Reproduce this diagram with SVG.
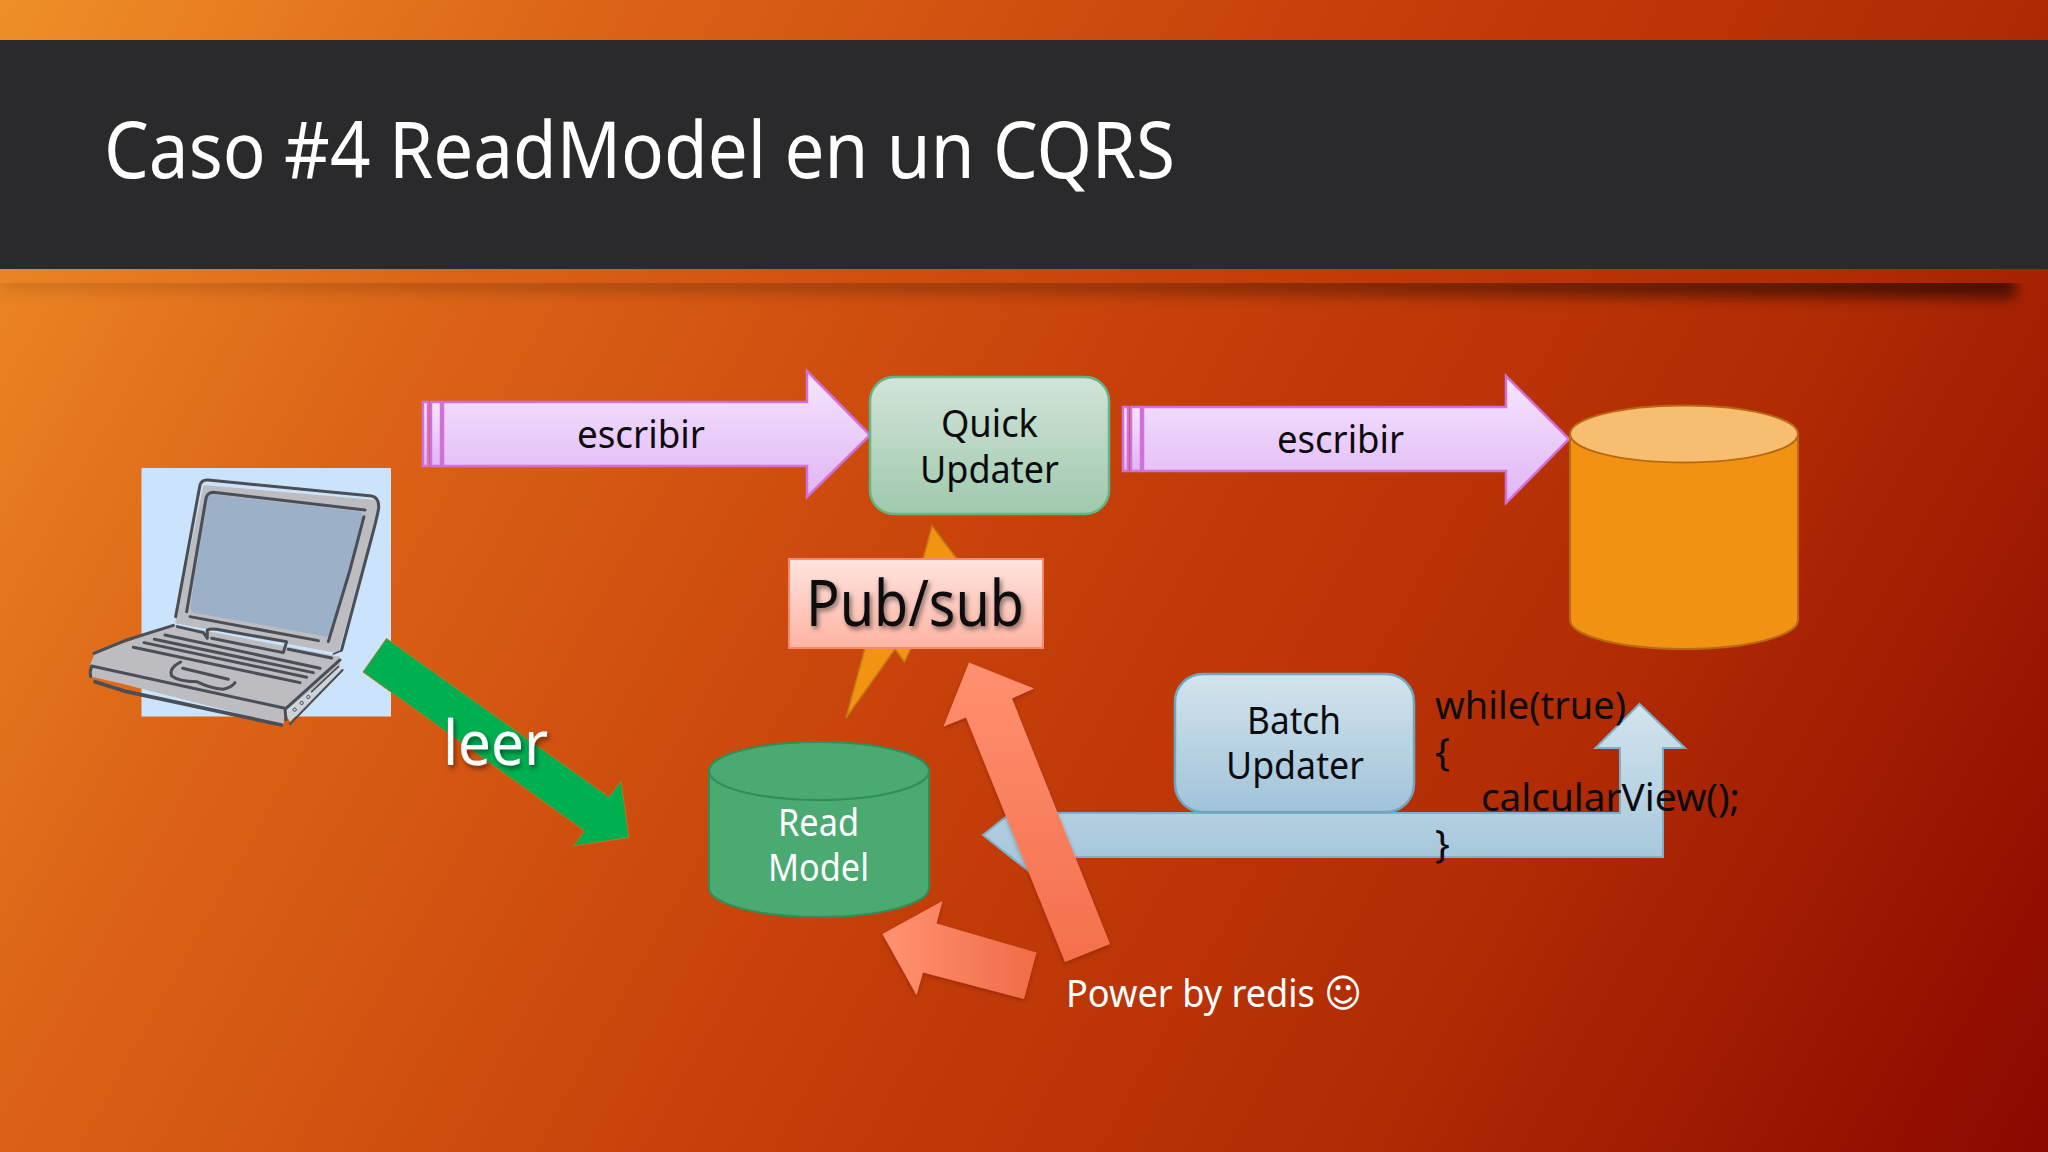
<svg xmlns="http://www.w3.org/2000/svg" width="2048" height="1152" viewBox="0 0 2048 1152">
<defs>
<linearGradient id="bg" gradientUnits="userSpaceOnUse" x1="0" y1="0" x2="2048" y2="1152"><stop offset="0" stop-color="#ef8f28"/><stop offset="0.22" stop-color="#dc6417"/><stop offset="0.5" stop-color="#c6400a"/><stop offset="0.75" stop-color="#b02a04"/><stop offset="1" stop-color="#8a0800"/></linearGradient>
<linearGradient id="purple" x1="0" y1="0" x2="0" y2="1"><stop offset="0" stop-color="#f6e6fe"/><stop offset="1" stop-color="#dfb5f5"/></linearGradient>
<linearGradient id="green" x1="0" y1="0" x2="0" y2="1"><stop offset="0" stop-color="#d2e4d9"/><stop offset="1" stop-color="#9fc9ad"/></linearGradient>
<linearGradient id="blue" x1="0" y1="0" x2="0" y2="1"><stop offset="0" stop-color="#d3e4ed"/><stop offset="1" stop-color="#a0c3d9"/></linearGradient>
<linearGradient id="pink" x1="0" y1="0" x2="0" y2="1"><stop offset="0" stop-color="#ffe4df"/><stop offset="1" stop-color="#ffb4a3"/></linearGradient>
<linearGradient id="peach1" x1="0" y1="0" x2="0" y2="1"><stop offset="0" stop-color="#ff9070"/><stop offset="1" stop-color="#f4704c"/></linearGradient>
<linearGradient id="peach2" x1="0" y1="0" x2="1" y2="0"><stop offset="0" stop-color="#ff9272"/><stop offset="1" stop-color="#f06c48"/></linearGradient>
<linearGradient id="shade" x1="0" y1="0" x2="1" y2="0"><stop offset="0" stop-color="#000" stop-opacity="0.12"/><stop offset="0.55" stop-color="#000" stop-opacity="0.25"/><stop offset="1" stop-color="#000" stop-opacity="0.6"/></linearGradient>
<filter id="blur" x="-5%" y="-200%" width="110%" height="500%"><feGaussianBlur stdDeviation="7"/></filter>
<filter id="ts" x="-10%" y="-10%" width="120%" height="130%"><feDropShadow dx="2" dy="3" stdDeviation="2.500" flood-color="#000" flood-opacity="0.5"/></filter>
<filter id="ss" x="-10%" y="-10%" width="120%" height="120%"><feDropShadow dx="0" dy="2" stdDeviation="2" flood-color="#400" flood-opacity="0.3"/></filter>
<clipPath id="below"><rect x="0" y="283" width="2048" height="60"/></clipPath>
</defs>
<style>
text{font-family:"Noto Sans","DejaVu Sans",sans-serif;font-size:39px;fill:#0c0c10}
.w{fill:#fff}
.pa{fill:url(#purple);stroke:#d070d8;stroke-width:2.500}
.bl{fill:url(#blue);stroke:#7fb0c8;stroke-width:2}
.lk{fill:none;stroke:#4a4f57;stroke-linecap:round;stroke-linejoin:round}
</style>
<rect width="2048" height="1152" fill="url(#bg)"/>
<rect y="40" width="2048" height="229" fill="#2a2a2c"/>
<g clip-path="url(#below)"><polygon points="0,276 2015,276 2015,298 0,290" fill="url(#shade)" filter="url(#blur)"/></g>
<text id="title" class="w" x="104" y="178" style="font-size:78px" textLength="1071" lengthAdjust="spacingAndGlyphs">Caso #4 ReadModel en un CQRS</text>

<g id="laptop">
<rect x="141.500" y="468" width="249.500" height="248.500" fill="#cce4fb"/>
<g transform="translate(120 450) scale(0.3333)">
<path d="M250,105 L770,150 L775,185 L655,610 L165,520 Z" fill="#bdbdc1"/>
<path d="M270,132 L720,185 Q730,190 727,205 L640,540 Q630,565 610,558 L222,488 Q208,482 212,465 L258,150 Q260,136 270,132 Z" fill="#9cb0c8"/>
<path d="M165,525 L660,620 L660,650 L495,785 L490,825 L0,700 L-85,680 L-90,645 L-75,610 Z" fill="#bdbdc1"/>
<path d="M495,790 L660,650 L668,660 L510,815 Z" fill="#cfd3d8"/>
<g class="lk" stroke-width="9">
<path d="M167,500 L240,105 Q245,88 265,90 L755,138 Q778,142 776,175 Q770,210 745,300 L665,600"/>
<path d="M200,485 L258,145 Q262,128 280,127 L735,180"/>
<path d="M732,200 L690,360 L625,575"/>
<path d="M210,500 L595,572"/>
<path d="M172,530 L250,548 L262,565 L262,540 Q270,535 290,538 L500,575 L490,608 L275,565"/>
<path d="M505,598 L635,624"/>
<path d="M160,526 L20,570 L-78,610"/>
<path d="M135,555 L600,655"/>
<path d="M103,568 L580,668"/>
<path d="M72,578 L560,682"/>
<path d="M40,592 L540,698"/>
<path d="M182,636 Q145,655 155,678 Q175,695 230,695 Q270,715 310,718 Q335,712 345,698"/>
<path d="M188,655 L325,688"/>
<path d="M-85,650 Q-92,665 -88,680"/>
<path d="M-85,648 L495,775 L498,810"/>
<path d="M-75,695 L20,725 L485,825" stroke-width="11"/>
<path d="M498,775 L660,630"/>
<path d="M510,822 L668,660" stroke-width="6"/>
<path d="M575,725 L655,650" stroke-width="5"/>
<path d="M640,612 L665,602" stroke-width="5"/>
</g>
<g fill="none" stroke="#4a4f57" stroke-width="3"><circle cx="524" cy="779" r="5"/><circle cx="545" cy="759" r="5"/><circle cx="565" cy="741" r="5"/></g>
</g>
</g>

<g id="connectors">
<g id="write-1">
<rect class="pa" x="423" y="402" width="5" height="64"/><rect class="pa" x="431" y="402" width="10" height="64"/>
<polygon class="pa" points="443,402 807,402 807,371 870,435 807,497 807,466 443,466"/>
<text x="577" y="448" textLength="128" lengthAdjust="spacingAndGlyphs">escribir</text>
</g>
<g id="write-2">
<rect class="pa" x="1123" y="407" width="5" height="64"/><rect class="pa" x="1131" y="407" width="10" height="64"/>
<polygon class="pa" points="1143,407 1506,407 1506,376 1569,439 1506,503 1506,471 1143,471"/>
<text x="1277" y="453" textLength="127" lengthAdjust="spacingAndGlyphs">escribir</text>
</g>
<polygon id="read" points="386.500,638.500 609,797 621,781 629,837.500 573.500,846 584.500,831 363,672" fill="#00b050" stroke="#b07a20" stroke-width="1"/>
<polygon id="pubsub-bolt" points="932,526 957,559 1000,600 911,648 904.500,662 895,649 846,718 865,648 880,600 923,559" fill="#f29412" stroke="#c07a15" stroke-width="1.500"/>
<path id="batch-arrow" class="bl" d="M983,835 L1040,790 L1040,813 L1620,813 L1620,748 L1595.500,748 L1639.500,704 L1685,748 L1663,748 L1663,857 L1040,857 L1040,880 Z"/>
<polygon id="redis-up" points="969,662.500 1034,688.500 1012,698.500 1110,944 1065,962 966,717.500 943.500,726.500" fill="url(#peach1)" filter="url(#ss)"/>
<polygon id="redis-left" points="882.500,934 942.500,901 936.500,923.500 1036.500,952.500 1024,999 923,972.500 916.500,995" fill="url(#peach2)" filter="url(#ss)"/>
</g>

<g id="quick-updater">
<rect x="870" y="377" width="239" height="137" rx="24" fill="url(#green)" stroke="#63b684" stroke-width="2.500"/>
<text x="941" y="437" textLength="97" lengthAdjust="spacingAndGlyphs">Quick</text>
<text x="920" y="483" textLength="139" lengthAdjust="spacingAndGlyphs">Updater</text>
</g>
<g id="pub-sub">
<rect x="789" y="559" width="254" height="89" fill="url(#pink)" stroke="#f58a6c" stroke-width="2"/>
<text x="806" y="626" style="font-size:64px" textLength="218" lengthAdjust="spacingAndGlyphs" filter="url(#ts)">Pub/sub</text>
</g>
<g id="read-model">
<path d="M709,771 L709,888 A110,29 0 0 0 929,888 L929,771 Z" fill="#4aaa72" stroke="#2f8f58" stroke-width="2"/>
<ellipse cx="819" cy="771" rx="110" ry="29" fill="#4aaa72" stroke="#2f8f58" stroke-width="2"/>
<text class="w" x="778" y="836" textLength="81" lengthAdjust="spacingAndGlyphs">Read</text>
<text class="w" x="768" y="881" textLength="101" lengthAdjust="spacingAndGlyphs">Model</text>
</g>
<g id="database">
<path d="M1570,434 L1570,620 A114,29 0 0 0 1798,620 L1798,434 Z" fill="#f29212" stroke="#b86a10" stroke-width="2"/>
<ellipse cx="1684" cy="434" rx="114" ry="28.500" fill="#f7bd70" stroke="#b86a10" stroke-width="2"/>
</g>
<g id="batch-updater">
<rect x="1175" y="674" width="239" height="138" rx="28" fill="url(#blue)" stroke="#6fa6c0" stroke-width="2.500"/>
<text x="1247" y="734" textLength="94" lengthAdjust="spacingAndGlyphs">Batch</text>
<text x="1226" y="779" textLength="138" lengthAdjust="spacingAndGlyphs">Updater</text>
</g>
<g id="code">
<text x="1435" y="719" textLength="191" lengthAdjust="spacingAndGlyphs">while(true)</text>
<text x="1435" y="765">{</text>
<text x="1481" y="811" textLength="259" lengthAdjust="spacingAndGlyphs">calcularView();</text>
<text x="1435" y="857">}</text>
</g>
<text id="leer" class="w" x="443" y="765" style="font-size:62px" textLength="105" lengthAdjust="spacingAndGlyphs" filter="url(#ts)">leer</text>
<text id="power" class="w" x="1066" y="1007" textLength="296" lengthAdjust="spacingAndGlyphs">Power by redis ☺</text>
</svg>
